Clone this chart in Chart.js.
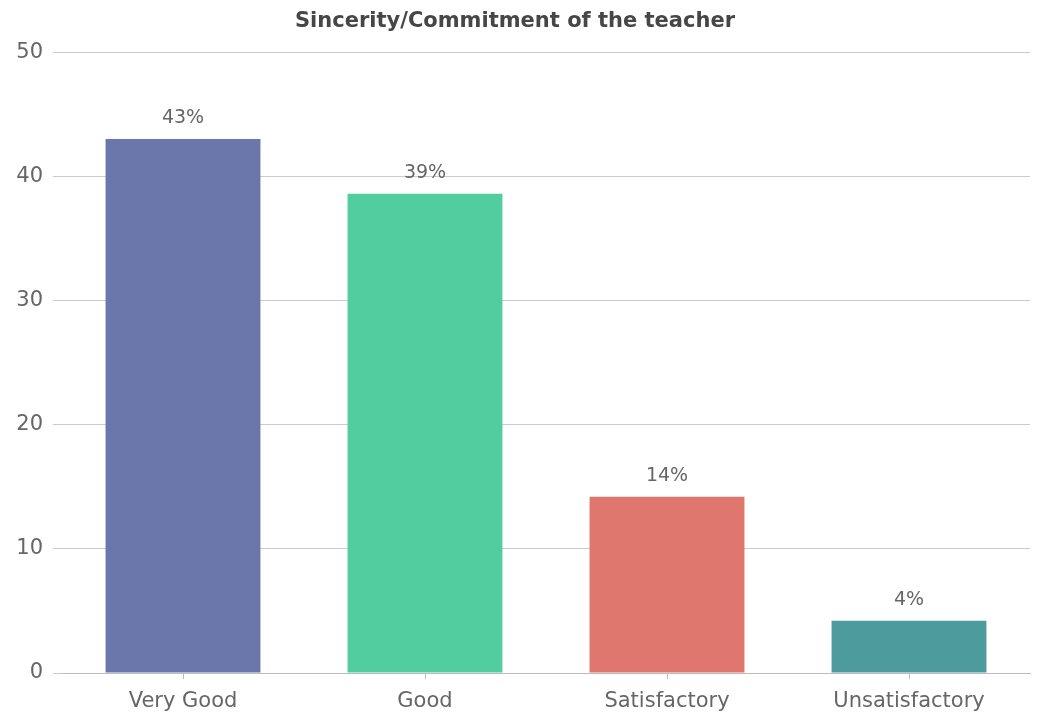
<!DOCTYPE html>
<html>
<head>
<meta charset="utf-8">
<script src="https://cdn.jsdelivr.net/npm/chart.js@4/dist/chart.umd.min.js"></script>
<style>
html,body{margin:0;padding:0;background:#fff;}
#wrap{width:1039px;height:722px;position:relative;}
</style>
</head>
<body>
<div id="wrap"><canvas id="c" width="1039" height="722"></canvas></div>
<script>
const categories = ["Very Good", "Good", "Satisfactory", "Unsatisfactory"];
const values = [43.0, 38.6, 14.2, 4.2];
const valueLabels = ["43%", "39%", "14%", "4%"];
const barColors = ["#6b77aa", "#52cda0", "#e0776e", "#4e9b9e"];
const yTicks = [0, 10, 20, 30, 40, 50];
const titleText = "Sincerity/Commitment of the teacher";

const FONT = "'DejaVu Sans', sans-serif";

const labelPlugin = {
  id: 'barLabels',
  afterDatasetsDraw(chart) {
    const ctx = chart.ctx;
    const meta = chart.getDatasetMeta(0);
    ctx.save();
    ctx.font = "19px " + FONT;
    ctx.fillStyle = "#666";
    ctx.textAlign = "center";
    ctx.textBaseline = "middle";
    meta.data.forEach((bar, i) => {
      ctx.fillText(valueLabels[i], bar.x, bar.y - 21);
    });
    ctx.restore();
  }
};

new Chart(document.getElementById('c'), {
  type: 'bar',
  data: {
    labels: categories,
    datasets: [{
      data: values,
      backgroundColor: barColors,
      borderWidth: 0,
      barPercentage: 0.64,
      categoryPercentage: 1.0
    }]
  },
  options: {
    responsive: false,
    animation: false,
    layout: { padding: { left: 0, right: 9, top: 0, bottom: 0 } },
    plugins: {
      legend: { display: false },
      tooltip: { enabled: false },
      title: {
        display: true,
        text: titleText,
        color: "#464646",
        font: { family: FONT, size: 21, weight: 'bold' },
        padding: { top: 9, bottom: 18 }
      }
    },
    scales: {
      x: {
        grid: { display: true, drawOnChartArea: false, offset: false, tickLength: 6, color: "#bbb" },
        border: { display: true, color: "#bbb", width: 1 },
        ticks: { color: "#666", font: { family: FONT, size: 21 }, padding: 10 },
        afterFit(s) { s.height = 49; }
      },
      y: {
        min: 0, max: 50,
        afterBuildTicks(s) { s.ticks = yTicks.map(v => ({ value: v })); },
        grid: { color: "#ccc", tickLength: 9, lineWidth: 1 },
        border: { display: false },
        ticks: { color: "#666", font: { family: FONT, size: 21 }, padding: 10 },
        afterFit(s) { s.width = 62; }
      }
    }
  },
  plugins: [labelPlugin]
});
</script>
</body>
</html>
